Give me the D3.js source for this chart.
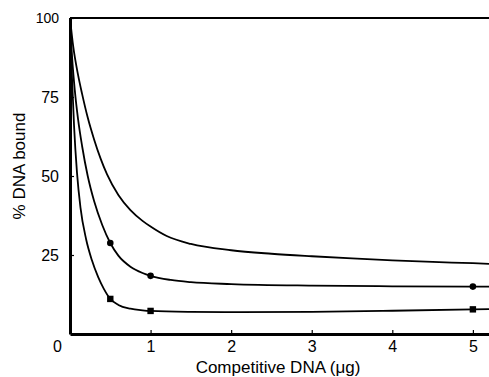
<!DOCTYPE html>
<html>
<head>
<meta charset="utf-8">
<script src="https://cdn.jsdelivr.net/npm/d3@7"></script>
<style>
  html, body { margin: 0; padding: 0; background: #fff; }
  svg { display: block; font-family: 'Liberation Sans', Arial, sans-serif; }
</style>
</head>
<body>
<svg id="chart" width="489" height="377"></svg>
<script>
// traced curves (competitive DNA in ug, % DNA bound)
const topCurveX = [0, 0.04, 0.1, 0.15, 0.22, 0.3, 0.38, 0.46, 0.6, 0.75, 0.9, 1.0, 1.2, 1.5, 2.0, 2.5, 3.0, 3.5, 4.0, 4.5, 5.0, 5.2]
const topCurveY = [100, 91, 82, 76, 68.5, 61.5, 55.5, 50.5, 44, 39.2, 35.8, 34, 31, 28.5, 26.5, 25.4, 24.6, 23.9, 23.3, 22.8, 22.4, 22.2]

const midCurveX = [0, 0.02, 0.06, 0.1, 0.15, 0.22, 0.3, 0.4, 0.5, 0.6, 0.75, 0.9, 1.0, 1.25, 1.5, 2.0, 3.0, 4.0, 5.0, 5.2]
const midCurveY = [100, 90, 77, 68, 59.5, 50, 42, 34.5, 28.8, 24.8, 21.3, 19.3, 18.4, 17.1, 16.4, 15.8, 15.3, 15.1, 15.0, 15.0]

const lowCurveX = [0, 0.01, 0.025, 0.05, 0.087, 0.13, 0.2, 0.27, 0.35, 0.42, 0.5, 0.6, 0.75, 0.9, 1.0, 1.5, 2.1, 3.0, 4.0, 5.0, 5.2]
const lowCurveY = [100, 92, 81, 66, 51, 40, 30, 23.5, 18, 14.3, 11.1, 9.2, 8.0, 7.5, 7.3, 7.0, 6.9, 7.0, 7.35, 7.8, 7.9]

// measured points
const circleX = [0.5, 1, 5]
const circleY = [28.8, 18.4, 15.0]
const squareX = [0.5, 1, 5]
const squareY = [11.1, 7.3, 7.8]

const xTicks = [0, 1, 2, 3, 4, 5]
const yTicks = [25, 50, 75, 100]

const svg = d3.select('#chart')

const x = d3.scaleLinear().domain([0, 5.2]).range([70, 489])
const y = d3.scaleLinear().domain([0, 100]).range([334, 18])

const zip = (xs, ys) => xs.map((v, i) => [v, ys[i]])

const line = d3
  .line()
  .x(d => x(d[0]))
  .y(d => y(d[1]))
  .curve(d3.curveMonotoneX)

// top frame line
svg
  .append('line')
  .attr('x1', x(0))
  .attr('x2', x(5.2))
  .attr('y1', y(100))
  .attr('y2', y(100))
  .attr('stroke', '#000')
  .attr('stroke-width', 2.2)

// y axis
const yAxis = svg
  .append('g')
  .attr('transform', `translate(${x(0)},0)`)
  .call(
    d3
      .axisLeft(y)
      .tickValues(yTicks)
      .tickFormat(d3.format('d'))
      .tickSizeInner(-4)
      .tickSizeOuter(0)
      .tickPadding(11)
  )
yAxis.select('.domain').attr('stroke-width', 3)
yAxis.selectAll('.tick line').attr('stroke-width', 1.2)
yAxis
  .selectAll('.tick text')
  .attr('fill', '#000')
  .attr('font-size', d => (d === 100 ? 14 : 16))
  .attr('font-family', "'Liberation Sans', Arial, sans-serif")

// x axis
const xAxis = svg
  .append('g')
  .attr('transform', `translate(0,${y(0)})`)
  .call(
    d3
      .axisBottom(x)
      .tickValues(xTicks)
      .tickFormat(d3.format('d'))
      .tickSizeInner(-4)
      .tickSizeOuter(0)
      .tickPadding(7)
  )
xAxis.select('.domain').attr('stroke-width', 3)
xAxis.selectAll('.tick line').attr('stroke-width', 1.2)
xAxis
  .selectAll('.tick text')
  .attr('fill', '#000')
  .attr('font-size', 16)
  .attr('font-family', "'Liberation Sans', Arial, sans-serif")
  .attr('x', d => (d === 0 ? -13 : 0))

// axis titles
svg
  .append('text')
  .attr('x', 278)
  .attr('y', 373)
  .attr('text-anchor', 'middle')
  .attr('font-size', 17)
  .text('Competitive DNA (\u03bcg)')

svg
  .append('text')
  .attr('transform', 'translate(25,166) rotate(-90)')
  .attr('text-anchor', 'middle')
  .attr('font-size', 17)
  .text('% DNA bound')

// curves
const curves = [zip(topCurveX, topCurveY), zip(midCurveX, midCurveY), zip(lowCurveX, lowCurveY)]
svg
  .append('g')
  .selectAll('path')
  .data(curves)
  .join('path')
  .attr('d', line)
  .attr('fill', 'none')
  .attr('stroke', '#000')
  .attr('stroke-width', 1.8)

// markers
svg
  .append('g')
  .selectAll('circle')
  .data(zip(circleX, circleY))
  .join('circle')
  .attr('cx', d => x(d[0]))
  .attr('cy', d => y(d[1]))
  .attr('r', 3.3)
  .attr('fill', '#000')

svg
  .append('g')
  .selectAll('rect')
  .data(zip(squareX, squareY))
  .join('rect')
  .attr('x', d => x(d[0]) - 3.2)
  .attr('y', d => y(d[1]) - 3.2)
  .attr('width', 6.4)
  .attr('height', 6.4)
  .attr('fill', '#000')
</script>
</body>
</html>
